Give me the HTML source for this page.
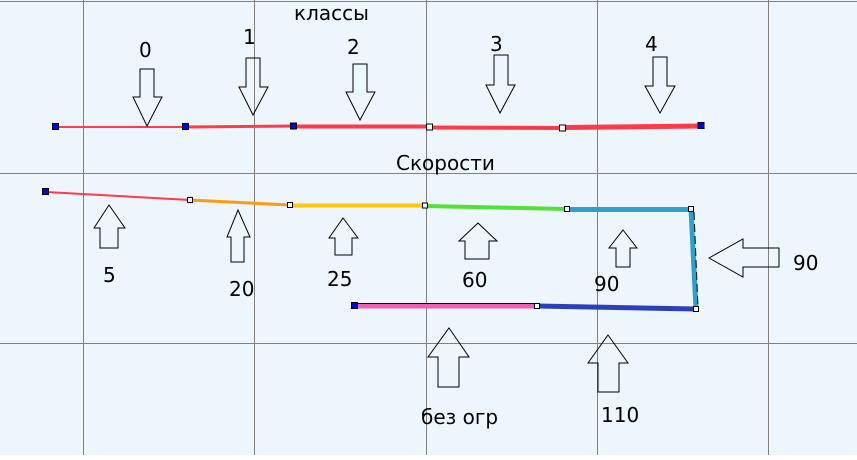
<!DOCTYPE html>
<html><head><meta charset="utf-8"><style>
html,body{margin:0;padding:0;background:#fff}
svg{display:block}
text{font-family:"DejaVu Sans","Liberation Sans",sans-serif;font-size:20px;fill:#000}
</style></head><body>
<svg width="857" height="460" viewBox="0 0 857 460" xmlns="http://www.w3.org/2000/svg">
<rect x="0" y="0" width="857" height="455" fill="#eef6fd"/>
<g stroke="#808080" stroke-width="1">
<line x1="83.5" y1="0" x2="83.5" y2="455"/>
<line x1="254.5" y1="0" x2="254.5" y2="455"/>
<line x1="426.5" y1="0" x2="426.5" y2="455"/>
<line x1="597.5" y1="0" x2="597.5" y2="455"/>
<line x1="768.5" y1="0" x2="768.5" y2="455"/>
<line x1="0" y1="1.5" x2="857" y2="1.5"/>
<line x1="0" y1="173.5" x2="857" y2="173.5"/>
<line x1="0" y1="343.5" x2="857" y2="343.5"/>
</g>
<line x1="56" y1="127" x2="186" y2="127" stroke="#ff3b4a" stroke-width="2"/>
<line x1="186" y1="127" x2="293" y2="126" stroke="#ff3b4a" stroke-width="3"/>
<line x1="293" y1="126.5" x2="430" y2="126.5" stroke="#ff3b4a" stroke-width="4"/>
<line x1="430" y1="127.5" x2="563" y2="128" stroke="#ff3b4a" stroke-width="4"/>
<line x1="563" y1="127.5" x2="701" y2="126" stroke="#ff3b4a" stroke-width="5"/>
<g fill="#0000ee" stroke="#000" stroke-width="1">
<rect x="52.5" y="123.5" width="6" height="6"/><rect x="182.5" y="123.5" width="6" height="6"/>
<rect x="290.5" y="123" width="6" height="6"/><rect x="698" y="122.5" width="6" height="6"/>
</g>
<g fill="#fff" stroke="#000"><rect x="426.5" y="124" width="6" height="6"/><rect x="559.5" y="125" width="6" height="6"/></g>
<polyline points="46,192 190,200" fill="none" stroke="#ff3b4a" stroke-width="2"/>
<polyline points="190,200 290,205" fill="none" stroke="#ff9a10" stroke-width="3"/>
<polyline points="290,205.5 425,205.5" fill="none" stroke="#ffc70a" stroke-width="4"/>
<polyline points="425,206 567,209" fill="none" stroke="#55e034" stroke-width="4"/>
<polyline points="567,209.5 691,209.5 696,309" fill="none" stroke="#2f9fcc" stroke-width="5"/>
<line x1="694" y1="212" x2="698" y2="308" stroke="#000" stroke-width="1" stroke-dasharray="8,4"/>
<polyline points="696,309 537,306" fill="none" stroke="#2b3fb8" stroke-width="5"/>
<polyline points="537,306 355,306" fill="none" stroke="#f060b0" stroke-width="5"/>
<line x1="537" y1="303.5" x2="355" y2="303.5" stroke="#000" stroke-width="1"/>
<rect x="42.5" y="188.5" width="6" height="6" fill="#0000ee" stroke="#000"/>
<rect x="351.5" y="302.5" width="6" height="6" fill="#0000ee" stroke="#000"/>
<g fill="#fff" stroke="#000">
<rect x="187.5" y="197.5" width="5" height="5"/><rect x="287.5" y="202.5" width="5" height="5"/>
<rect x="422.5" y="203" width="5" height="5"/><rect x="564.5" y="206.5" width="5" height="5"/>
<rect x="688.5" y="206.5" width="5" height="5"/><rect x="693.5" y="306.5" width="5" height="5"/>
<rect x="534.5" y="303.5" width="5" height="5"/>
</g>
<g fill="none" stroke="#000" stroke-width="1">
<polygon points="140,69 154,69 154,97 162,97 147,126 133,97 140,97"/>
<polygon points="246,58 260,58 260,87 268,87 253,115 239,87 246,87"/>
<polygon points="353,64 367,64 367,92 375,92 360,120 346,92 353,92"/>
<polygon points="494,55 508,55 508,85 515,85 500,113 486,85 494,85"/>
<polygon points="653,57 667,57 667,86 675,86 660,113 645,86 653,86"/>
<polygon points="109,205 125,228 118,228 118,248 100,248 100,228 94,228"/>
<polygon points="238,210 250,237 244,237 244,262 231,262 231,237 227,237"/>
<polygon points="343,218 358,238 352,238 352,255 335,255 335,238 329,238"/>
<polygon points="478,223 497,241 489,241 489,259 465,259 465,241 459,241"/>
<polygon points="623,230 637,248 630,248 630,267 616,267 616,248 609,248"/>
<polygon points="709,258 743,239 743,248 779,248 779,267 743,267 743,277"/>
<polygon points="449,328 469,357 459,357 459,387 438,387 438,357 428,357"/>
<polygon points="608,335 628,363 619,363 619,392 598,392 598,363 588,363"/>
</g>
<text x="294" y="20">классы</text>
<text x="139" y="57">0</text>
<text x="243" y="44">1</text>
<text x="347" y="54">2</text>
<text x="490" y="51">3</text>
<text x="645" y="51">4</text>
<text x="396" y="170">Скорости</text>
<text x="103" y="282">5</text>
<text x="229" y="296">20</text>
<text x="327" y="286">25</text>
<text x="462" y="287">60</text>
<text x="594" y="291">90</text>
<text x="793" y="270">90</text>
<text x="421" y="424">без огр</text>
<text x="601" y="422">110</text>
</svg>
</body></html>
